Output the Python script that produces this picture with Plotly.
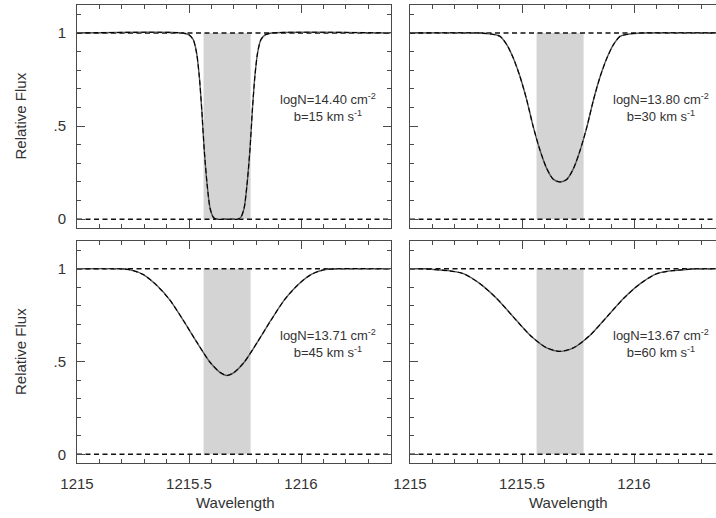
import plotly.graph_objects as go

# ---------------- data ----------------
band_lo, band_hi = 1215.565, 1215.775

wl_b15 = [1215.00, 1215.47, 1215.50, 1215.519, 1215.534, 1215.546, 1215.557, 1215.568,
          1215.582, 1215.594, 1215.609, 1215.624, 1215.67, 1215.716, 1215.731, 1215.746,
          1215.758, 1215.772, 1215.783, 1215.794, 1215.806, 1215.821, 1215.84, 1215.87, 1216.40]
fx_b15 = [1.0, 1.0, 0.99, 0.964, 0.892, 0.766, 0.587, 0.372,
          0.174, 0.059, 0.010, 0.0, 0.0, 0.0, 0.010, 0.059,
          0.174, 0.372, 0.587, 0.766, 0.892, 0.964, 0.99, 1.0, 1.0]

wl_b30 = [1215.00, 1215.31, 1215.357, 1215.402, 1215.432, 1215.461, 1215.491, 1215.521,
          1215.55, 1215.58, 1215.61, 1215.64, 1215.67, 1215.70, 1215.73, 1215.76,
          1215.79, 1215.819, 1215.849, 1215.879, 1215.908, 1215.938, 1215.983, 1216.03, 1216.40]
fx_b30 = [1.0, 1.0, 0.995, 0.982, 0.937, 0.865, 0.766, 0.641,
          0.497, 0.372, 0.273, 0.214, 0.200, 0.214, 0.273, 0.372,
          0.497, 0.641, 0.766, 0.865, 0.937, 0.982, 0.995, 1.0, 1.0]

wl_b45 = [1215.00, 1215.19, 1215.237, 1215.296, 1215.356, 1215.415, 1215.474, 1215.534,
          1215.594, 1215.638, 1215.67, 1215.702, 1215.746, 1215.806, 1215.866, 1215.925,
          1215.984, 1216.044, 1216.103, 1216.15, 1216.40]
fx_b45 = [1.0, 1.0, 0.995, 0.969, 0.911, 0.831, 0.723, 0.606,
          0.496, 0.442, 0.425, 0.442, 0.496, 0.606, 0.723, 0.831,
          0.911, 0.969, 0.995, 1.0, 1.0]

wl_b60 = [1215.00, 1215.07, 1215.12, 1215.17, 1215.238, 1215.312, 1215.387, 1215.461,
          1215.536, 1215.61, 1215.67, 1215.73, 1215.804, 1215.879, 1215.953, 1216.028,
          1216.102, 1216.17, 1216.22, 1216.27, 1216.40]
fx_b60 = [1.0, 1.0, 0.995, 0.99, 0.974, 0.920, 0.840, 0.741,
          0.642, 0.574, 0.555, 0.574, 0.642, 0.741, 0.840, 0.920,
          0.974, 0.99, 0.995, 1.0, 1.0]

labels = [
    "logN=14.40 cm<sup>-2</sup><br>b=15 km s<sup>-1</sup>",
    "logN=13.80 cm<sup>-2</sup><br>b=30 km s<sup>-1</sup>",
    "logN=13.71 cm<sup>-2</sup><br>b=45 km s<sup>-1</sup>",
    "logN=13.67 cm<sup>-2</sup><br>b=60 km s<sup>-1</sup>",
]
profiles = [(wl_b15, fx_b15), (wl_b30, fx_b30), (wl_b45, fx_b45), (wl_b60, fx_b60)]

x_ticks = [1215, 1215.5, 1216]
x_ticktext = ["1215", "1215.5", "1216"]
y_ticks = [0, 0.5, 1]
y_ticktext = ["0", ".5", "1"]

# ---------------- layout geometry ----------------
W, H = 716, 518
FONT = "Liberation Sans, Arial, Helvetica, sans-serif"
AX = "#4a4a4a"
TXT = "#333333"

dom_x = [[77 / W, 390.6 / W], [410 / W, 1.0], [77 / W, 390.6 / W], [410 / W, 1.0]]
dom_y = [[290 / H, 513 / H], [290 / H, 513 / H], [55 / H, 277 / H], [55 / H, 277 / H]]
x_rng = [[1215, 1216.4], [1215, 1216.366], [1215, 1216.4], [1215, 1216.366]]
y_rng = [-0.047, 1.15]

fig = go.Figure()

for i, (wl, fx) in enumerate(profiles):
    sx = "" if i == 0 else str(i + 1)
    xa, ya = "x" + sx, "y" + sx
    xr = x_rng[i]
    # grey band
    fig.add_shape(type="rect", xref=xa, yref=ya, x0=band_lo, x1=band_hi, y0=0, y1=1,
                  fillcolor="#d4d4d4", line=dict(width=0), layer="below")
    # dashed reference lines at 0 and 1
    for lvl in (0, 1):
        fig.add_trace(go.Scatter(x=[xr[0], xr[1]], y=[lvl, lvl], xaxis=xa, yaxis=ya,
                                 mode="lines", line=dict(color="#111", width=1.4, dash="5px,3.5px"),
                                 showlegend=False, hoverinfo="skip"))
    # profile: solid grey + dashed black overlay
    fig.add_trace(go.Scatter(x=wl, y=fx, xaxis=xa, yaxis=ya, mode="lines",
                             line=dict(color="#555", width=1.4, shape="spline", smoothing=0.7),
                             showlegend=False))
    fig.add_trace(go.Scatter(x=wl, y=fx, xaxis=xa, yaxis=ya, mode="lines",
                             line=dict(color="#000", width=1.1, shape="spline", smoothing=0.7,
                                       dash="5px,3px"),
                             showlegend=False))
    fig.add_annotation(xref=xa, yref=ya, x=1216.12, y=0.60, text=labels[i], showarrow=False,
                       align="center", font=dict(family=FONT, size=13, color=TXT))

    common_x = dict(domain=dom_x[i], range=xr, showline=True, linecolor=AX, linewidth=1,
                    mirror="allticks", ticks="inside", ticklen=8, tickcolor=AX, tickwidth=1,
                    tickvals=x_ticks, ticktext=x_ticktext, showgrid=False, zeroline=False,
                    minor=dict(ticks="inside", ticklen=4, dtick=0.1, tick0=1215, tickcolor=AX,
                               showgrid=False),
                    showticklabels=(i >= 2), ticklabelstandoff=7, automargin=False,
                    tickfont=dict(family=FONT, size=15, color=TXT),
                    anchor=ya)
    common_y = dict(domain=dom_y[i], range=y_rng, showline=True, linecolor=AX, linewidth=1,
                    mirror=("allticks" if i in (0, 2) else False), ticks="inside", ticklen=8,
                    tickcolor=AX, tickwidth=1, tickvals=y_ticks, ticktext=y_ticktext,
                    showgrid=False, zeroline=False,
                    minor=dict(ticks="inside", ticklen=4, dtick=0.1, tick0=0, tickcolor=AX,
                               showgrid=False),
                    showticklabels=(i in (0, 2)), ticklabelstandoff=7, automargin=False,
                    tickfont=dict(family=FONT, size=15, color=TXT),
                    anchor=xa)
    fig.layout["xaxis" + sx] = common_x
    fig.layout["yaxis" + sx] = common_y

# axis titles as annotations
for yc in ((290 + 513) / 2 / H, (55 + 277) / 2 / H):
    fig.add_annotation(xref="paper", yref="paper", x=20 / W, y=yc, text="Relative Flux",
                       textangle=-90, showarrow=False, xanchor="center", yanchor="middle",
                       font=dict(family=FONT, size=15, color=TXT))
for xa in ("x3", "x4"):
    fig.add_annotation(xref=xa, yref="paper", x=1215.707, y=(H - 502) / H, text="Wavelength",
                       showarrow=False, xanchor="center", yanchor="middle",
                       font=dict(family=FONT, size=15, color=TXT))

fig.update_layout(width=W, height=H, margin=dict(l=0, r=0, t=0, b=0, autoexpand=False),
                  paper_bgcolor="white", plot_bgcolor="white",
                  font=dict(family=FONT, color=TXT))

fig.write_html("out.html")
